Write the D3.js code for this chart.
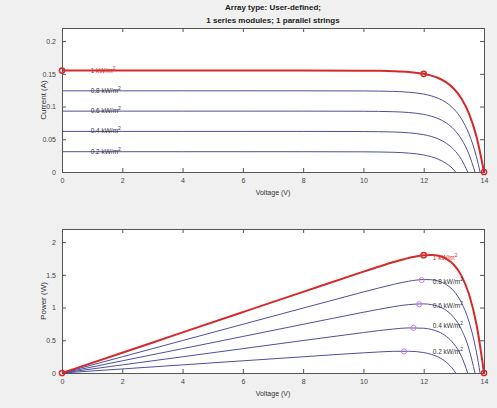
<!DOCTYPE html>
<html>
<head>
<meta charset="utf-8">
<script src="https://cdn.jsdelivr.net/npm/d3@7"></script>
<style>
  body { margin: 0; background: #f0f0f0; }
  svg { display: block; }
  text { font-family: "Liberation Sans Narrow", "Liberation Sans", Arial, sans-serif; fill: #333; }
</style>
</head>
<body>
<script>
// --- data ---
var irradiance = ['1 kW/m', '0.8 kW/m', '0.6 kW/m', '0.4 kW/m', '0.2 kW/m'];
var vGrid = [0, 2, 4, 6, 8, 10, 10.5, 11, 11.5, 12, 12.25, 12.5, 12.75, 13, 13.25, 13.5, 13.75];
var vOpen = [14, 13.87, 13.70, 13.46, 13.06];

// current (A) at each vGrid point below the open-circuit voltage
var current1 = [0.155, 0.155, 0.155, 0.155, 0.155, 0.1548, 0.1546, 0.1541, 0.1529, 0.150, 0.1473, 0.1432, 0.1369, 0.1272, 0.1123, 0.0894, 0.0541];
var current08 = [0.124, 0.124, 0.124, 0.124, 0.124, 0.1238, 0.1236, 0.1231, 0.1219, 0.119, 0.1163, 0.1122, 0.1059, 0.0962, 0.0813, 0.0584, 0.0231];
var current06 = [0.093, 0.093, 0.093, 0.093, 0.093, 0.0928, 0.0926, 0.0921, 0.0909, 0.088, 0.0853, 0.0812, 0.0749, 0.0652, 0.0503, 0.0274];
var current04 = [0.062, 0.062, 0.062, 0.062, 0.062, 0.0618, 0.0616, 0.0611, 0.0599, 0.057, 0.0543, 0.0502, 0.0439, 0.0342, 0.0193];
var current02 = [0.031, 0.031, 0.031, 0.031, 0.031, 0.0308, 0.0306, 0.0301, 0.0289, 0.026, 0.0233, 0.0192, 0.0129, 0.0032];

// power (W) at the same points
var power1 = [0, 0.31, 0.62, 0.93, 1.24, 1.548, 1.623, 1.695, 1.758, 1.800, 1.804, 1.790, 1.745, 1.654, 1.488, 1.207, 0.744];
var power08 = [0, 0.248, 0.496, 0.744, 0.992, 1.238, 1.298, 1.354, 1.402, 1.428, 1.425, 1.403, 1.350, 1.251, 1.077, 0.788, 0.318];
var power06 = [0, 0.186, 0.372, 0.558, 0.744, 0.928, 0.972, 1.013, 1.045, 1.056, 1.045, 1.015, 0.955, 0.848, 0.666, 0.370];
var power04 = [0, 0.124, 0.248, 0.372, 0.496, 0.618, 0.647, 0.672, 0.689, 0.684, 0.665, 0.628, 0.560, 0.445, 0.256];
var power02 = [0, 0.062, 0.124, 0.186, 0.248, 0.308, 0.321, 0.331, 0.332, 0.312, 0.285, 0.240, 0.164, 0.042];

// maximum power points
var mppV = [12.0, 11.93, 11.85, 11.66, 11.35];
var mppI = [0.150, 0.119, 0.088, 0.059, 0.029];
var mppP = [1.80, 1.42, 1.05, 0.69, 0.33];

// label anchor values (voltage, value) for the power panel
var pLabelV = [12.3, 12.3, 12.3, 12.3, 12.3];
var pLabelP = [1.73, 1.36, 1.0, 0.68, 0.29];

var xTicks = [0, 2, 4, 6, 8, 10, 12, 14];
var iTicks = [0, 0.05, 0.1, 0.15, 0.2];
var pTicks = [0, 0.5, 1, 1.5, 2];

var currents = [current1, current08, current06, current04, current02];
var powers = [power1, power08, power06, power04, power02];

var W = 497, H = 408;
var red = '#d42a2a', blue = '#4c4f9e', magenta = '#c77ee6';

var svg = d3.select('body').append('svg').attr('width', W).attr('height', H);

svg.append('text').attr('x', 273).attr('y', 10).attr('text-anchor', 'middle')
    .style('font-size', '8px').style('font-weight', 'bold').style('fill', '#222')
    .text('Array type: User-defined;');
svg.append('text').attr('x', 273).attr('y', 23).attr('text-anchor', 'middle')
    .style('font-size', '8px').style('font-weight', 'bold').style('fill', '#222')
    .text('1 series modules; 1 parallel strings');

function seriesPoints(k, vals) {
    var pts = vals.map(function(v, i) { return [vGrid[i], v]; });
    pts.push([vOpen[k], 0]);
    return pts;
}

function drawPanel(opt) {
    var x = d3.scaleLinear().domain([0, 14]).range([62, 484]);
    var y = d3.scaleLinear().domain([0, opt.ymax]).range([opt.bottom, opt.top]);
    var g = svg.append('g');

    g.append('rect').attr('x', 62).attr('y', opt.top)
        .attr('width', 422).attr('height', opt.bottom - opt.top)
        .attr('fill', '#fff');

    var line = d3.line().x(function(d) { return x(d[0]); }).y(function(d) { return y(d[1]); })
        .curve(d3.curveMonotoneX);

    // draw blue curves first, red on top
    for (var k = opt.series.length - 1; k >= 0; k--) {
        g.append('path').datum(seriesPoints(k, opt.series[k]))
            .attr('d', line).attr('fill', 'none')
            .attr('stroke', k === 0 ? red : blue)
            .attr('stroke-width', k === 0 ? 2 : 1);
    }

    // axes with inward ticks on all sides
    var ax = [
        d3.axisBottom(x).tickValues(xTicks).tickSize(-4).tickPadding(6),
        d3.axisTop(x).tickValues(xTicks).tickSize(-4).tickFormat(''),
        d3.axisLeft(y).tickValues(opt.ticks).tickSize(-4).tickPadding(6).tickFormat(d3.format('~g')),
        d3.axisRight(y).tickValues(opt.ticks).tickSize(-4).tickFormat('')
    ];
    var pos = ['translate(0,' + opt.bottom + ')', 'translate(0,' + opt.top + ')',
        'translate(62,0)', 'translate(484,0)'];
    ax.forEach(function(a, i) {
        var ag = g.append('g').attr('transform', pos[i]).call(a);
        ag.select('.domain').attr('stroke', '#555');
        ag.selectAll('.tick line').attr('stroke', '#555');
        ag.selectAll('.tick text').style('font-size', '7px').style('fill', '#444')
            .style('font-family', '"Liberation Sans Narrow", "Liberation Sans", Arial, sans-serif');
    });

    g.append('text').attr('x', 273).attr('y', opt.bottom + 23).attr('text-anchor', 'middle')
        .style('font-size', '7px').text('Voltage (V)');
    g.append('text').attr('transform', 'translate(46,' + ((opt.top + opt.bottom) / 2) + ') rotate(-90)')
        .attr('text-anchor', 'middle').style('font-size', '8px').text(opt.ylabel);

    opt.markers.forEach(function(m) {
        g.append('circle').attr('cx', x(m[0])).attr('cy', y(m[1])).attr('r', 2.6)
            .attr('fill', 'none').attr('stroke', m[2]).attr('stroke-width', m[2] === red ? 1.5 : 1);
    });

    opt.labels.forEach(function(l, k) {
        var t = g.append('text').attr('x', x(l[0])).attr('y', y(l[1]))
            .style('font-size', '6.5px').style('fill', k === 0 ? red : '#333');
        t.append('tspan').text(irradiance[k]);
        t.append('tspan').attr('dy', -3).style('font-size', '5px').text('2');
    });
}

drawPanel({
    top: 28, bottom: 172, ymax: 0.22, ticks: iTicks, ylabel: 'Current (A)',
    series: currents,
    markers: [[0, current1[0], red], [mppV[0], mppI[0], red], [vOpen[0], 0, red]],
    labels: currents.map(function(c) { return [0.95, c[0] - 0.003]; })
});

drawPanel({
    top: 229, bottom: 373, ymax: 2.2, ticks: pTicks, ylabel: 'Power (W)',
    series: powers,
    markers: [[0, 0, red], [mppV[0], mppP[0], red], [vOpen[0], 0, red]]
        .concat(mppV.slice(1).map(function(v, i) { return [v, mppP[i + 1], magenta]; })),
    labels: pLabelV.map(function(v, k) { return [v, pLabelP[k]]; })
});
</script>
</body>
</html>
